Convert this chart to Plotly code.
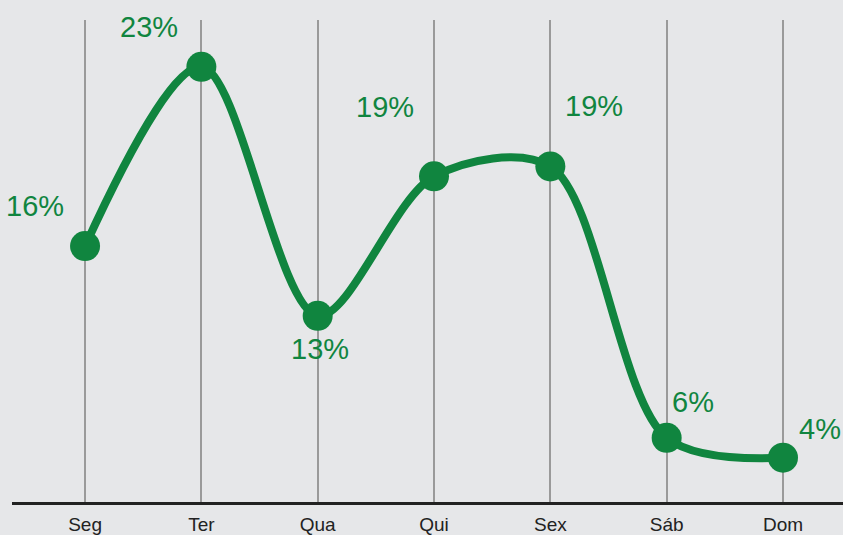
import plotly.graph_objects as go

days = ["Seg", "Ter", "Qua", "Qui", "Sex", "Sáb", "Dom"]
values = [15.8, 23.0, 13.0, 18.6, 19.0, 8.1, 7.3]
labels = ["16%", "23%", "13%", "19%", "19%", "6%", "4%"]

GREEN = "#10853f"
BG = "#e6e7e9"

fig = go.Figure()
fig.add_trace(go.Scatter(
    x=days, y=values, mode="lines+markers",
    line=dict(color=GREEN, width=8, shape="spline", smoothing=0.9),
    marker=dict(color=GREEN, size=30),
    hoverinfo="skip",
))

offsets = [(-50, -40), (-52, -40), (2, 33), (-49, -69), (44, -60), (26, -36), (37, -29)]
for d, v, t, (dx, dy) in zip(days, values, labels, offsets):
    fig.add_annotation(x=d, y=v, text=t, showarrow=False, xshift=dx, yshift=-dy,
                       font=dict(family="Liberation Sans, Arial", size=29, color=GREEN))

fig.update_layout(
    width=843, height=535,
    margin=dict(l=12, r=0, t=20, b=31),
    paper_bgcolor=BG, plot_bgcolor=BG,
    showlegend=False,
    xaxis=dict(type="category", range=[-0.628, 6.516], showgrid=True, gridcolor="#9a9a9a",
               gridwidth=2, showline=True, linecolor="#222222", linewidth=3,
               ticks="", ticklabelstandoff=3,
               tickfont=dict(family="Liberation Sans Narrow, Arial Narrow, Arial", size=19, color="#222"),
               fixedrange=True),
    yaxis=dict(range=[5.52, 24.88], showgrid=False, zeroline=False, showticklabels=False,
               fixedrange=True),
)
fig.write_html("out.html", config={"displayModeBar": False},
               post_script="document.body.style.margin='0';document.body.style.overflow='hidden';")
